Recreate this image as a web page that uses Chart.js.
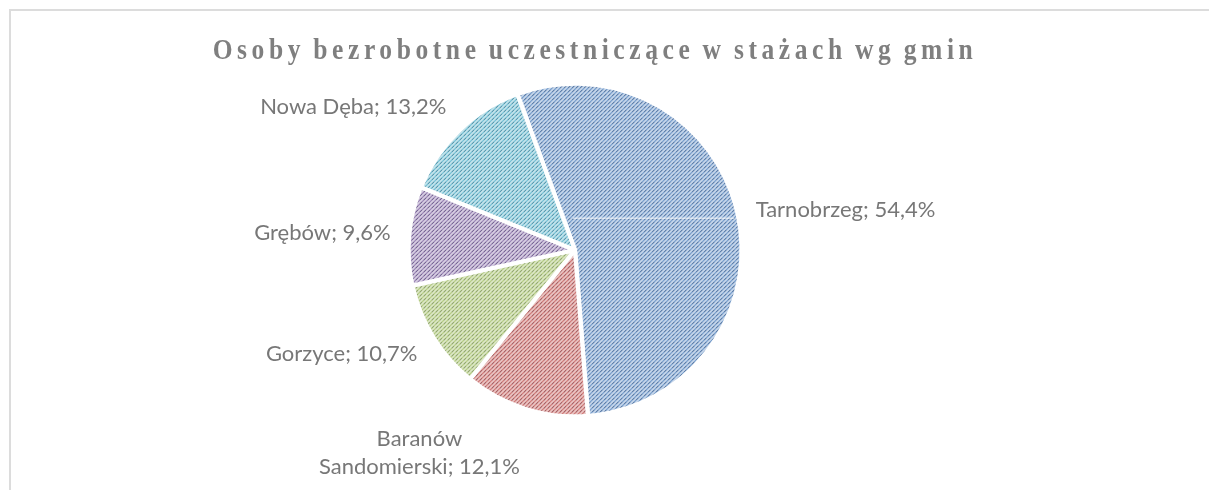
<!DOCTYPE html>
<html><head><meta charset="utf-8">
<script src="https://cdn.jsdelivr.net/npm/chart.js@4.4.1/dist/chart.umd.min.js"></script>
<style>
html,body{margin:0;padding:0;background:#fff;overflow:hidden;width:1209px;height:490px}
canvas{position:absolute;left:0;top:0}
#frame{position:absolute;left:9px;top:9px;width:1400px;height:700px;border-top:2px solid #dcdcdc;border-left:2px solid #dcdcdc;pointer-events:none}
</style></head><body>
<canvas id="c" width="1209" height="490"></canvas>
<div id="frame"></div>
<script>
const chartTitle = 'Osoby bezrobotne uczestniczące w stażach wg gmin';
const categories = ['Tarnobrzeg', 'Baranów Sandomierski', 'Gorzyce', 'Grębów', 'Nowa Dęba'];
const shares = [54.4, 12.1, 10.7, 9.6, 13.2];
const baseColors = ['#4f81bd', '#c0504d', '#9bbb59', '#8064a2', '#4bacc6'];

const LABEL_FONT = '22px Lato';
const LABEL_LH = 28;
const LABEL_GAP = 19;
const LABEL_MAXW = 215;

function hexToRgb(h){const n=parseInt(h.slice(1),16);return [n>>16&255,n>>8&255,n&255];}
function mix(c,t,a){return c.map((v,i)=>Math.round(v+(t[i]-v)*a));}
function makePattern(hex){
  const rgb=hexToRgb(hex);
  const cv=document.createElement('canvas');cv.width=8;cv.height=8;
  const g=cv.getContext('2d');
  const base=mix(rgb,[255,255,255],0.55);
  const light=mix(rgb,[255,255,255],0.72);
  const dark=mix(rgb,[55,60,80],0.35);
  const mid=mix(rgb,[255,255,255],0.15);
  g.fillStyle='rgb('+base+')';g.fillRect(0,0,8,8);
  for(let x=0;x<8;x++)for(let y=0;y<8;y++){
    const d=(x+y)%4;
    if(d===3){g.fillStyle=(x%4<2)?'rgb('+dark+')':'rgb('+mid+')';g.fillRect(x,y,1,1);}
    else if(d===1){g.fillStyle='rgb('+light+')';g.fillRect(x,y,1,1);}
  }
  return g.createPattern(cv,'repeat');
}
function fmt(v){return v.toFixed(1).replace('.',',');}
function wrap(ctx,text,maxW){
  const words=text.split(' ');const lines=[];let cur='';
  for(const w of words){const t=cur?cur+' '+w:w;
    if(cur&&ctx.measureText(t).width>maxW){lines.push(cur);cur=w;}else cur=t;}
  if(cur)lines.push(cur);return lines;
}

const labelPlugin={
  id:'outLabels',
  afterDatasetsDraw(chart){
    const ctx=chart.ctx,meta=chart.getDatasetMeta(0),ds=chart.data.datasets[0];
    const maxIdx=ds.data.indexOf(Math.max(...ds.data));
    ctx.save();
    ctx.font=LABEL_FONT;ctx.fillStyle='#777777';ctx.textBaseline='middle';ctx.textAlign='center';
    meta.data.forEach((arc,i)=>{
      const p=arc.getProps(['x','y','startAngle','endAngle','outerRadius'],true);
      const mid=(p.startAngle+p.endAngle)/2;
      const r=p.outerRadius+LABEL_GAP;
      const px=p.x+Math.cos(mid)*r,py=p.y+Math.sin(mid)*r;
      const text=chart.data.labels[i]+'; '+fmt(ds.data[i])+'%';
      const lines=wrap(ctx,text,LABEL_MAXW);
      const h=lines.length*LABEL_LH;
      const bw=Math.max(...lines.map(l=>ctx.measureText(l).width));
      const left=Math.cos(mid)<0;
      const cx=left?px-bw/2:px+bw/2;
      const cy=py+Math.sin(mid)*h/2+(left?0:3);
      lines.forEach((l,k)=>ctx.fillText(l,cx,cy-h/2+LABEL_LH*(k+0.5)));
      if(i===maxIdx){
        const ly=cy+8;
        const dy=ly-p.y;
        const ex=p.x+Math.sqrt(Math.max(p.outerRadius*p.outerRadius-dy*dy,0))-4;
        ctx.save();ctx.strokeStyle='rgba(255,255,255,0.6)';ctx.lineWidth=1.5;
        ctx.beginPath();ctx.moveTo(p.x-2,ly);ctx.lineTo(ex,ly);ctx.stroke();ctx.restore();
      }
    });
    ctx.restore();
  }
};
const titlePlugin={
  id:'spacedTitle',
  afterDraw(chart){
    const ctx=chart.ctx;ctx.save();
    ctx.font='bold 29px "Liberation Serif"';ctx.fillStyle='#7f7f7f';
    ctx.letterSpacing='5.2px';ctx.wordSpacing='-3px';
    ctx.textAlign='center';ctx.textBaseline='alphabetic';
    ctx.translate(595,59);ctx.scale(0.88,1);
    ctx.fillText(chartTitle,0,0);ctx.restore();
  }
};

new Chart(document.getElementById('c'),{
  type:'pie',
  data:{labels:categories,datasets:[{data:shares,backgroundColor:baseColors.map(makePattern),
    borderColor:'#ffffff',borderWidth:4,offset:1,radius:166}]},
  options:{responsive:false,animation:false,rotation:-20.3,
    layout:{padding:{left:0,right:59,top:10,bottom:0}},
    plugins:{legend:{display:false},tooltip:{enabled:false},title:{display:false}}},
  plugins:[labelPlugin,titlePlugin]
});
</script>
</body></html>
